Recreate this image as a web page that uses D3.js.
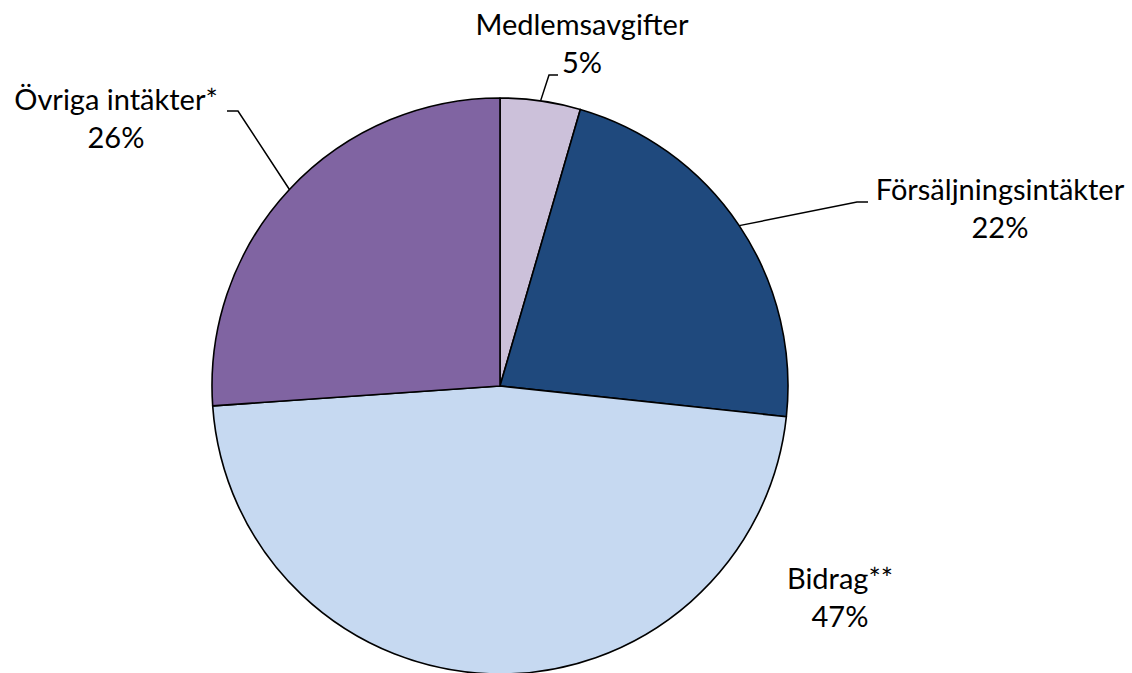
<!DOCTYPE html>
<html>
<head>
<meta charset="utf-8">
<script src="https://cdnjs.cloudflare.com/ajax/libs/d3/7.8.5/d3.min.js"></script>
<style>
  html, body { margin: 0; padding: 0; background: #fff; }
  text { font-family: "Lato", "Open Sans", sans-serif; fill: #000; }
</style>
</head>
<body>
<div id="chart"></div>
<script>
// data
var categories = ["Medlemsavgifter", "Försäljningsintäkter", "Bidrag**", "Övriga intäkter*"];
var values = [4.5, 22.2, 47.2, 26.1];
var percentLabels = ["5%", "22%", "47%", "26%"];
var colors = ["#CCC1DA", "#1F497D", "#C6D9F1", "#8064A2"];

// label layout (center x, first baseline y, leader elbow)
var labelPos = [
    {x: 582, y: 35, elbow: [549, 75], end: [558, 75]},
    {x: 1000, y: 200, elbow: [857, 202], end: [868, 202]},
    {x: 840, y: 589, elbow: null, end: null},
    {x: 116, y: 110, elbow: [238, 111], end: [227, 111]}
];

var width = 1132, height = 673;
var cx = 500, cy = 386, radius = 288;

var svg = d3.select('#chart').append('svg').attr('width', width).attr('height', height);
var g = svg.append('g').attr('transform', 'translate(' + cx + ',' + cy + ')');

var pie = d3.pie().sort(null).value(function(d) { return d; });
var arc = d3.arc().innerRadius(0).outerRadius(radius);
var arcs = pie(values);

g.selectAll('path.slice').data(arcs).enter().append('path')
    .attr('class', 'slice')
    .attr('d', arc)
    .attr('fill', function(d, i) { return colors[i]; })
    .attr('stroke', '#000')
    .attr('stroke-width', 1.6)
    .attr('stroke-linejoin', 'round');

// leader lines
arcs.forEach(function(d, i) {
    var lp = labelPos[i];
    if (!lp.elbow) return;
    var mid = (d.startAngle + d.endAngle) / 2;
    var sx = cx + radius * Math.sin(mid);
    var sy = cy - radius * Math.cos(mid);
    svg.append('polyline')
        .attr('points', [[sx, sy], lp.elbow, lp.end].map(function(p) { return p.join(','); }).join(' '))
        .attr('fill', 'none')
        .attr('stroke', '#000')
        .attr('stroke-width', 1.5);
});

// labels
var labels = svg.selectAll('text.lbl').data(categories).enter().append('text')
    .attr('class', 'lbl')
    .attr('text-anchor', 'middle')
    .attr('font-size', 29)
    .attr('x', function(d, i) { return labelPos[i].x; })
    .attr('y', function(d, i) { return labelPos[i].y; });
labels.append('tspan').text(function(d) { return d; });
labels.append('tspan')
    .attr('x', function(d, i) { return labelPos[i].x; })
    .attr('dy', 38)
    .text(function(d, i) { return percentLabels[i]; });
</script>
</body>
</html>
